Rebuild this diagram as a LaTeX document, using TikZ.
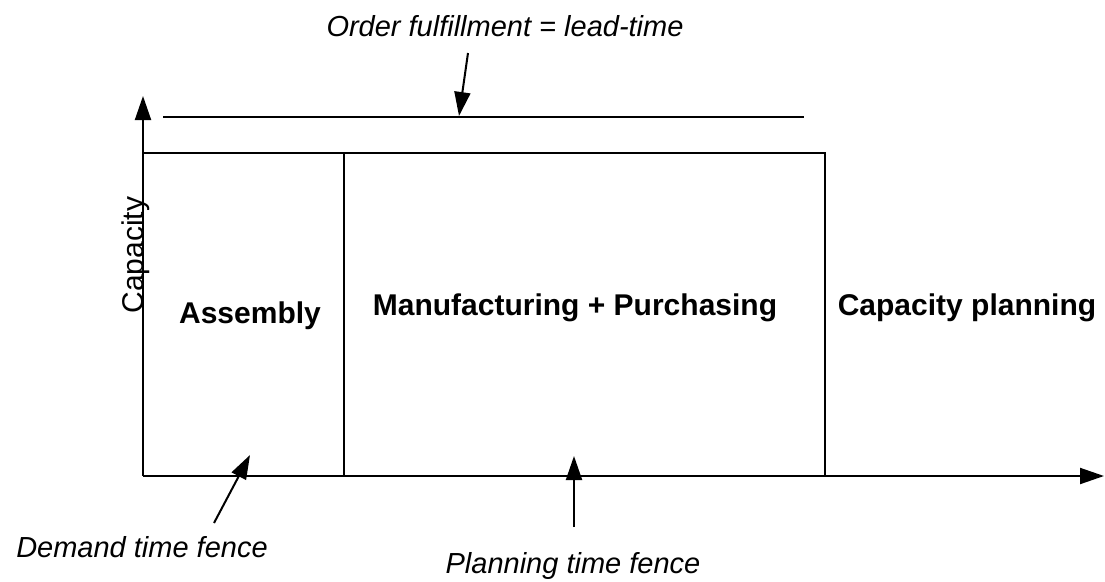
\documentclass[tikz,border=0pt]{standalone}
\usepackage{fontspec}
\setmainfont{Liberation Sans}
\usetikzlibrary{arrows.meta}
\begin{document}
\begin{tikzpicture}[x=1pt,y=-1pt,line width=2pt,
  arr/.style={-{Triangle[length=24pt,width=16pt]}},
  lbl/.style={font=\fontsize{29}{35}\selectfont\itshape,anchor=base,inner sep=0pt},
  area/.style={font=\fontsize{30}{36}\selectfont\bfseries,anchor=base,inner sep=0pt},
  axlbl/.style={font=\fontsize{30}{36}\selectfont,anchor=base,inner sep=0pt,rotate=90}]
\useasboundingbox (0,0) rectangle (1105,581);
% axes
\coordinate (O) at (143,476);
\coordinate (ytop) at (143,96);
\coordinate (xend) at (1104,476);
\draw[arr] (O) -- (ytop);
\draw[arr] (O) -- (xend);
% blocks
\coordinate (tl) at (143,153);
\coordinate (tr) at (825,153);
\coordinate (br) at (825,476);
\coordinate (mt) at (344,153);
\coordinate (mb) at (344,476);
\draw (tl) -- (tr) -- (br);
\draw (mt) -- (mb);
% lead-time line
\coordinate (ltl) at (163,117);
\coordinate (ltr) at (804,117);
\draw (ltl) -- (ltr);
% labels
\node[lbl] (order) at (505,36) {Order fulfillment = lead-time};
\node[lbl] (demand) at (142,557) {Demand time fence};
\node[lbl] (planning) at (573,573) {Planning time fence};
\node[area] (assembly) at (250,323) {Assembly};
\node[area] (manu) at (575,315) {Manufacturing + Purchasing};
\node[area] (capplan) at (967,315) {Capacity planning};
\node[axlbl] (capacity) at (143,255) {Capacity};
% pointer arrows
\coordinate (oa) at (468,53);
\coordinate (ob) at (459,116);
\coordinate (da) at (214,523);
\coordinate (db) at (250,455);
\coordinate (pa) at (574,527);
\coordinate (pb) at (574,456);
\draw[arr] (oa) -- (ob);
\draw[arr] (da) -- (db);
\draw[arr] (pa) -- (pb);
\end{tikzpicture}
\end{document}
